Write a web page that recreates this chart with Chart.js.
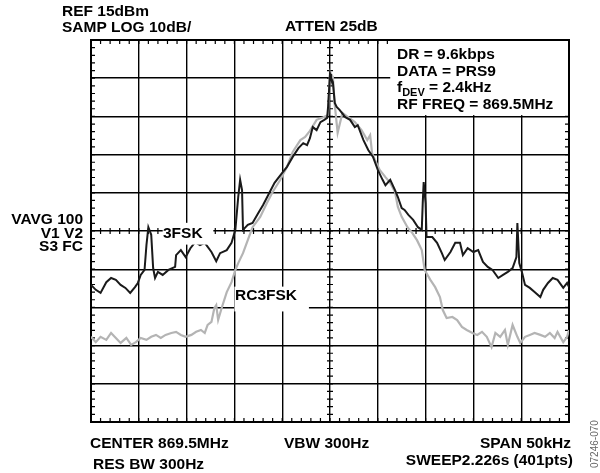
<!DOCTYPE html>
<html>
<head>
<meta charset="utf-8">
<script src="https://cdn.jsdelivr.net/npm/chart.js@4/dist/chart.umd.min.js"></script>
<style>
  html, body { margin: 0; padding: 0; background: #fff; }
  #wrap { width: 600px; height: 473px; position: relative; }
</style>
</head>
<body>
<div id="wrap"><canvas id="c" width="600" height="473"></canvas></div>
<script>
// Frequency offset from centre (kHz) and level (dBm)
const freq3FSK = [-25.0,-24.5,-24.0,-23.4,-22.9,-22.4,-21.9,-21.4,-20.9,-20.4,-20.1,-19.8,-19.4,-19.2,-19.0,-18.7,-18.5,-18.3,-18.0,-17.5,-16.9,-16.2,-16.1,-15.6,-15.1,-14.6,-14.1,-13.6,-13.1,-12.4,-11.9,-11.5,-10.8,-10.3,-9.9,-9.6,-9.4,-9.2,-9.1,-8.6,-8.1,-7.5,-7.0,-6.3,-5.8,-5.0,-4.5,-3.9,-3.3,-2.8,-2.4,-2.1,-1.8,-1.4,-1.0,-0.6,-0.3,-0.2,0.0,0.1,0.3,0.5,0.7,1.0,1.6,2.1,2.6,2.9,3.5,4.0,4.5,5.0,5.5,5.8,6.3,6.8,7.1,7.5,7.8,8.2,8.7,9.2,9.6,9.7,9.8,10.0,10.1,10.7,11.2,11.7,12.0,12.6,13.1,13.6,13.9,14.4,15.0,15.5,16.0,16.5,17.0,17.6,18.1,18.6,19.1,19.5,19.6,19.8,20.1,20.4,20.9,21.4,22.0,22.3,22.8,23.3,23.8,24.4,24.8,25.0];
const level3FSK = [-49.1,-50.4,-51.2,-48.4,-47.3,-47.8,-49.1,-49.9,-51.2,-49.7,-48.6,-46.5,-45.2,-38.7,-34.0,-36.0,-44.7,-47.3,-45.7,-46.5,-45.2,-44.4,-41.3,-40.0,-41.8,-39.5,-37.9,-38.7,-38.1,-40.5,-42.9,-40.8,-40.0,-38.1,-34.7,-26.1,-21.6,-24.3,-34.7,-33.4,-32.9,-30.3,-28.2,-24.8,-22.4,-19.8,-18.2,-15.6,-13.3,-12.0,-12.5,-10.7,-7.8,-8.6,-6.5,-5.9,-5.4,-2.5,6.1,5.1,4.0,-1.5,-2.5,-3.3,-5.2,-5.9,-7.8,-7.3,-11.2,-13.8,-15.6,-19.0,-21.6,-23.0,-21.6,-24.3,-26.1,-29.0,-29.5,-30.8,-32.1,-34.0,-34.7,-27.7,-22.2,-27.7,-36.6,-36.6,-38.1,-40.8,-42.6,-40.5,-38.1,-38.1,-41.3,-39.5,-40.5,-40.0,-43.1,-44.4,-45.2,-47.3,-46.5,-45.7,-44.7,-41.8,-32.9,-43.4,-46.0,-49.1,-49.9,-51.0,-52.3,-50.4,-48.6,-47.3,-47.8,-49.9,-48.6,-49.7];

const freqRC3FSK = [-25.0,-24.5,-24.0,-23.4,-22.9,-22.4,-21.9,-21.3,-20.8,-20.3,-19.8,-19.2,-18.7,-18.2,-17.7,-17.2,-16.6,-16.1,-15.6,-15.1,-14.5,-14.0,-13.5,-13.1,-12.8,-12.4,-12.1,-11.9,-11.7,-11.3,-10.8,-10.3,-9.9,-9.6,-9.1,-8.6,-8.1,-7.3,-6.6,-6.0,-5.2,-4.5,-3.9,-3.1,-2.6,-2.1,-1.4,-0.7,-0.2,0.0,0.3,0.5,0.8,1.3,1.9,2.6,3.3,3.9,4.2,4.4,4.7,5.2,5.8,6.3,6.8,7.1,7.5,8.1,8.6,9.1,9.6,9.9,10.5,11.0,11.5,11.8,12.2,12.8,13.3,13.8,14.3,14.9,15.4,15.9,16.4,16.9,17.3,17.8,18.3,18.6,19.1,19.6,19.9,20.4,20.9,21.4,22.0,22.5,23.0,23.5,23.8,24.4,24.8,25.0];
const levelRC3FSK = [-62.7,-64.1,-62.7,-63.5,-61.7,-63.0,-64.3,-63.0,-64.8,-64.1,-63.0,-63.5,-62.7,-62.2,-63.0,-62.2,-61.7,-61.4,-62.2,-62.7,-62.2,-61.4,-60.9,-61.7,-59.6,-58.8,-55.2,-54.4,-58.3,-54.9,-51.0,-48.4,-45.2,-43.4,-40.8,-37.4,-34.0,-31.3,-27.7,-24.8,-21.6,-18.2,-14.3,-11.2,-10.4,-8.8,-5.9,-5.2,-4.6,6.6,5.3,-2.0,-9.3,-4.1,-5.2,-6.5,-8.6,-11.2,-9.9,-14.6,-16.4,-19.0,-20.9,-22.4,-24.8,-28.7,-31.3,-34.0,-35.5,-37.4,-40.0,-45.2,-47.8,-49.7,-52.3,-55.7,-57.8,-57.5,-58.3,-60.1,-60.9,-61.7,-62.2,-61.4,-62.7,-65.4,-61.7,-62.7,-60.9,-64.8,-59.6,-62.7,-64.3,-62.7,-62.2,-61.7,-62.2,-62.7,-61.7,-63.0,-61.4,-64.1,-62.7,-60.9];

// Axis settings (span 50 kHz, 10 dB/div, ref 15 dBm)
const xRange = [-25, 25];
const yRange = [-85, 15];
const xDiv = 5, yDiv = 10;
const centerLevel = -35;

const FONT = "bold 15.5px 'Liberation Sans', Arial, sans-serif";

const toPts = (xs, ys) => xs.map((v, i) => ({ x: v, y: ys[i] }));

const boxes = [
  // label backgrounds, in axis units
  { x0: 6.3, x1: 25, y0: 15, y1: -4.4 },
  { x0: -17.5, x1: -12.1, y0: -32.6, y1: -38.3 },
  { x0: -10.0, x1: -2.1, y0: -49.3, y1: -55.8 }
];

const frame = {
  id: 'frame',
  beforeDatasetsDraw(chart) {
    const { ctx, chartArea: a, scales: { x, y } } = chart;
    ctx.save();
    ctx.strokeStyle = '#000';
    ctx.lineWidth = 1.2;
    const L = 4, C = 3;
    const cx = x.getPixelForValue(0);
    const cy = y.getPixelForValue(centerLevel);
    ctx.beginPath();
    for (let v = xRange[0]; v <= xRange[1] + 1e-9; v += 1) {
      const px = x.getPixelForValue(v);
      ctx.moveTo(px, a.top); ctx.lineTo(px, a.top + L);
      ctx.moveTo(px, a.bottom); ctx.lineTo(px, a.bottom - L);
      ctx.moveTo(px, cy - C); ctx.lineTo(px, cy + C);
    }
    for (let v = yRange[0]; v <= yRange[1] + 1e-9; v += 2) {
      const py = y.getPixelForValue(v);
      ctx.moveTo(a.left, py); ctx.lineTo(a.left + L, py);
      ctx.moveTo(a.right, py); ctx.lineTo(a.right - L, py);
      ctx.moveTo(cx - C, py); ctx.lineTo(cx + C, py);
    }
    ctx.stroke();
    ctx.lineWidth = 2;
    ctx.strokeRect(a.left, a.top, a.right - a.left, a.bottom - a.top);
    ctx.restore();
  },
  afterDatasetsDraw(chart) {
    const { ctx, scales: { x, y } } = chart;
    ctx.save();
    ctx.fillStyle = '#fff';
    boxes.forEach(b => {
      const x0 = x.getPixelForValue(b.x0), x1 = x.getPixelForValue(b.x1);
      const y0 = y.getPixelForValue(b.y0), y1 = y.getPixelForValue(b.y1);
      ctx.fillRect(x0, y0 + 1, x1 - x0 - 1, y1 - y0);
    });
    ctx.fillStyle = '#000';
    ctx.font = FONT;
    ctx.textBaseline = 'alphabetic';
    ctx.textAlign = 'left';
    ctx.fillText('3FSK', 163, 238);
    ctx.fillText('RC3FSK', 235, 300);
    ctx.fillText('DR = 9.6kbps', 397, 59);
    ctx.fillText('DATA = PRS9', 397, 76);
    ctx.fillText('f', 397, 92);
    const w = ctx.measureText('f').width;
    ctx.font = "bold 11px 'Liberation Sans', Arial, sans-serif";
    ctx.fillText('DEV', 397 + w, 96);
    const w2 = ctx.measureText('DEV').width;
    ctx.font = FONT;
    ctx.fillText(' = 2.4kHz', 397 + w + w2, 92);
    ctx.fillText('RF FREQ = 869.5MHz', 397, 109);
    ctx.restore();
  },
  afterDraw(chart) {
    const { ctx } = chart;
    ctx.save();
    ctx.fillStyle = '#000';
    ctx.font = FONT;
    ctx.textBaseline = 'alphabetic';
    ctx.textAlign = 'left';
    ctx.fillText('REF 15dBm', 62, 16);
    ctx.fillText('SAMP LOG 10dB/', 62, 32);
    ctx.fillText('ATTEN 25dB', 285, 31);
    ctx.fillText('CENTER 869.5MHz', 90, 448);
    ctx.fillText('VBW 300Hz', 284, 448);
    ctx.fillText('RES BW 300Hz', 93, 469);
    ctx.textAlign = 'right';
    ctx.fillText('SPAN 50kHz', 571, 448);
    ctx.fillText('SWEEP2.226s (401pts)', 573, 465);
    ctx.fillText('VAVG 100', 83, 224);
    ctx.fillText('V1 V2', 83, 238);
    ctx.fillText('S3 FC', 83, 251);
    ctx.translate(598, 468);
    ctx.rotate(-Math.PI / 2);
    ctx.fillStyle = '#666';
    ctx.font = "10px 'Liberation Sans', Arial, sans-serif";
    ctx.textAlign = 'left';
    ctx.fillText('07246-070', 0, 0);
    ctx.restore();
  }
};

new Chart(document.getElementById('c'), {
  type: 'scatter',
  data: {
    datasets: [
      { label: '3FSK', data: toPts(freq3FSK, level3FSK), showLine: true, borderColor: '#1a1a1a', borderWidth: 2, pointRadius: 0, tension: 0, order: 1 },
      { label: 'RC3FSK', data: toPts(freqRC3FSK, levelRC3FSK), showLine: true, borderColor: '#b4b4b4', borderWidth: 2.2, pointRadius: 0, tension: 0, order: 2 }
    ]
  },
  options: {
    responsive: false,
    animation: false,
    layout: { padding: { left: 91, right: 31, top: 40, bottom: 51 } },
    plugins: { legend: { display: false }, tooltip: { enabled: false } },
    scales: {
      x: {
        type: 'linear', min: xRange[0], max: xRange[1],
        ticks: { display: false, stepSize: xDiv },
        grid: { color: '#000', lineWidth: 1.4, drawTicks: false },
        border: { display: false }
      },
      y: {
        type: 'linear', min: yRange[0], max: yRange[1],
        ticks: { display: false, stepSize: yDiv },
        grid: { color: '#000', lineWidth: 1.4, drawTicks: false },
        border: { display: false }
      }
    }
  },
  plugins: [frame]
});
</script>
</body>
</html>
